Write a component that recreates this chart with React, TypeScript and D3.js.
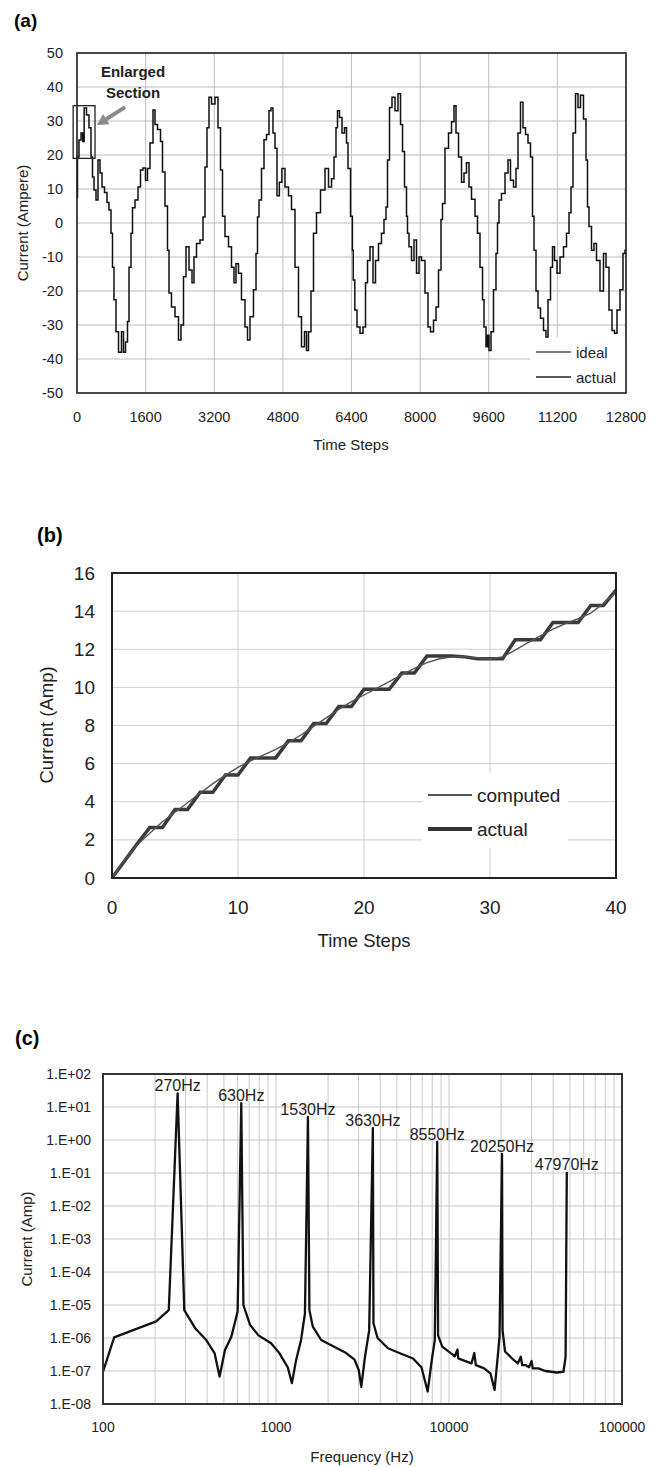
import React from "react";
import * as d3 from "d3";

const FONT = "'Liberation Sans', Arial, Helvetica, sans-serif";

// ---- panel (a): time-domain current ----
const waveTime = [
  0, 23, 70, 117, 147, 187, 256, 303, 350, 373, 420, 466, 513, 560, 606, 676, 723, 769, 816, 839,
  886, 933, 1003, 1072, 1096, 1166, 1189, 1236, 1282, 1306, 1399, 1446, 1515, 1562, 1632, 1655, 1749, 1795, 1842, 1912,
  1982, 2005, 2098, 2122, 2168, 2238, 2332, 2401, 2448, 2518, 2565, 2658, 2705, 2751, 2821, 2914, 2961, 3008, 3054, 3101,
  3171, 3264, 3311, 3381, 3404, 3497, 3567, 3637, 3684, 3730, 3800, 3870, 3963, 3987, 4080, 4150, 4197, 4220, 4267, 4337,
  4383, 4453, 4500, 4546, 4593, 4640, 4686, 4750, 4803, 4896, 4966, 5036, 5129, 5199, 5269, 5339, 5362, 5432, 5479, 5549,
  5619, 5736, 5829, 5899, 5969, 6015, 6062, 6085, 6155, 6202, 6272, 6295, 6342, 6412, 6430, 6450, 6505, 6552, 6645, 6692,
  6762, 6785, 6878, 6925, 6995, 7064, 7134, 7181, 7228, 7251, 7321, 7368, 7461, 7508, 7578, 7601, 7671, 7694, 7717, 7764,
  7834, 7881, 7951, 7997, 8067, 8160, 8207, 8277, 8347, 8394, 8463, 8510, 8533, 8627, 8697, 8767, 8813, 8860, 8930, 9000,
  9046, 9116, 9163, 9233, 9326, 9349, 9443, 9466, 9513, 9559, 9583, 9629, 9676, 9746, 9792, 9816, 9862, 9932, 10026, 10072,
  10142, 10212, 10259, 10305, 10375, 10422, 10492, 10538, 10608, 10632, 10678, 10725, 10772, 10842, 10911, 10958, 11005, 11075, 11098, 11168,
  11215, 11308, 11378, 11448, 11494, 11541, 11588, 11658, 11704, 11774, 11844, 11891, 11914, 11961, 12031, 12077, 12147, 12240, 12310, 12357,
  12450, 12497, 12567, 12613, 12707, 12753, 12800,
];
const waveCurrent = [
  7.6, 19.4, 24.4, 26.5, 24, 33.8, 31.8, 28, 19.4, 13.5, 9.7, 6.8, 18.5, 14.7, 10.6, 9, 6, 3.8, -3, -13,
  -22.6, -32, -38, -32, -38, -35, -29, -13, -3, 4.5, 6.8, 10.6, 15.6, 16.2, 12.6, 16, 23.5, 33.2, 29, 27.5,
  24, 15, 5, -8, -20.6, -24.7, -27.6, -34.4, -30, -15.8, -7, -13.8, -17.6, -10, -6, -5, 1.8, 16.5, 28, 37,
  35, 37, 28, 15.6, 2, -4, -7, -13, -17.6, -12, -14.8, -22.6, -30.6, -34.4, -27.6, -19.6, -9, 1.8, 6.8, 16,
  24.5, 26, 33, 33.8, 26.5, 22, 8, 12, 16, 10.6, 8, 4, -13, -27.6, -36.4, -32, -37.5, -32, -20, -3,
  3, 9.7, 16, 10.6, 13, 19.4, 28, 33, 31, 26.5, 28, 23.5, 16, 2, -8, -16.8, -25.6, -30.6, -32.4, -30.6,
  -17.6, -11, -7, -17.6, -11, -6, -3, 1, 4.7, 18.5, 34, 37, 33, 38, 29, 21, 10.6, 2, -3, -7,
  -11, -5, -14.8, -10, -11, -20.6, -30.6, -32, -28.6, -24.7, -13.8, 1, 5.7, 22, 26.5, 29.8, 34.5, 26.5, 19.4, 12,
  14.7, 17.7, 10.6, 7, 2, -3, -13, -22.6, -30.6, -36.4, -33, -37.5, -32, -19.6, -9, 0, 6.8, 8.7, 14.7, 18.5,
  12.6, 10.6, 16, 26.5, 35.5, 28, 26, 23.5, 19.4, 2, -8, -20, -25, -28, -31.6, -33.5, -22.6, -13, -7, -11,
  -14.8, -10, -7, -3, 3, 10.6, 26.5, 38, 34, 37.6, 30.6, 18.5, 4.7, -1, -8, -6, -11, -20, -9, -13,
  -25.6, -31.6, -32.4, -25.6, -19.6, -9, -8,
];
const aTicksX = [0, 1600, 3200, 4800, 6400, 8000, 9600, 11200, 12800];
const aTicksY = [-50, -40, -30, -20, -10, 0, 10, 20, 30, 40, 50];
const aLegend = ["ideal", "actual"];
const enlargedT = [-90, 420];
const enlargedI = [19, 34.5];

// ---- panel (b): first 40 steps ----
const stepTime = d3.range(0, 41);
const computedCurrent = [
  0, 0.95, 1.75, 2.35, 2.95, 3.45, 3.95, 4.45, 4.95, 5.4, 5.8, 6.15, 6.45, 6.75, 7.1, 7.5, 7.95, 8.4, 8.85, 9.25,
  9.6, 9.95, 10.3, 10.65, 11.0, 11.3, 11.5, 11.6, 11.6, 11.55, 11.5, 11.6, 11.95, 12.35, 12.7, 13.05, 13.35, 13.6, 13.9, 14.4,
  15.0,
];
const actualCurrent = [
  0, 0.9, 1.8, 2.65, 2.65, 3.6, 3.6, 4.5, 4.5, 5.4, 5.4, 6.3, 6.3, 6.3, 7.2, 7.2, 8.1, 8.1, 9.0, 9.0,
  9.9, 9.9, 9.9, 10.75, 10.75, 11.65, 11.65, 11.65, 11.6, 11.5, 11.5, 11.5, 12.5, 12.5, 12.5, 13.4, 13.4, 13.4, 14.3, 14.3,
  15.1,
];
const bTicksX = [0, 10, 20, 30, 40];
const bTicksY = [0, 2, 4, 6, 8, 10, 12, 14, 16];
const bLegend = ["computed", "actual"];

// ---- panel (c): spectrum ----
const specFreq = [
  100, 116, 203, 240, 270, 295, 343, 395, 442, 472, 507, 552, 600, 630, 648, 708, 792, 936, 1045, 1169,
  1236, 1306, 1396, 1470, 1530, 1560, 1632, 1824, 2154, 2546, 2844, 3008, 3111, 3268, 3456, 3630, 3660, 3864, 4437, 5248,
  6197, 6927, 7530, 7960, 8277, 8550, 8650, 9140, 10230, 10800, 11200, 11300, 12770, 13500, 14000, 14300, 15970, 17350, 18340, 19060,
  19590, 20250, 20400, 21080, 23560, 25000, 26000, 26500, 27810, 29000, 30000, 30500, 32870, 36000, 38820, 42000, 45890, 47200, 47970,
];
const specAmp = [
  9.5e-8, 1.05e-6, 3.2e-6, 7e-6, 26, 7e-6, 1.9e-6, 8.7e-7, 3.4e-7, 6.8e-8, 4.3e-7, 1.1e-6, 6.3e-6, 13, 1e-5, 2.5e-6, 1.2e-6, 6.9e-7, 3.5e-7, 1.3e-7,
  4.3e-8, 2.1e-7, 8.7e-7, 5.6e-6, 5.0, 7e-6, 2.2e-6, 8.7e-7, 5.5e-7, 3.5e-7, 2.2e-7, 1.07e-7, 3.3e-8, 2.7e-7, 1.7e-6, 2.3, 2.8e-6, 1e-6, 4.9e-7, 3.4e-7,
  2.4e-7, 1.3e-7, 2.4e-8, 2.2e-7, 8.6e-7, 0.87, 1.2e-6, 5.5e-7, 3.5e-7, 2.8e-7, 4.5e-7, 2.4e-7, 1.9e-7, 1.7e-7, 3.5e-7, 1.5e-7, 1.2e-7, 8.5e-8, 2.7e-8, 2.2e-7,
  1.1e-6, 0.38, 1.7e-6, 3.9e-7, 2.2e-7, 1.7e-7, 2.7e-7, 1.5e-7, 1.5e-7, 1.3e-7, 2e-7, 1.2e-7, 1.2e-7, 1.0e-7, 9.5e-8, 9e-8, 9.5e-8, 2.7e-7, 0.107,
];
const peakFreq = [270, 630, 1530, 3630, 8550, 20250, 47970];
const peakAmp = [26, 13, 5.0, 2.3, 0.87, 0.38, 0.107];
const peakLabels = ["270Hz", "630Hz", "1530Hz", "3630Hz", "8550Hz", "20250Hz", "47970Hz"];
const cTicksX = [100, 1000, 10000, 100000];
const cTicksY = [1e-8, 1e-7, 1e-6, 1e-5, 1e-4, 1e-3, 1e-2, 1e-1, 1, 10, 100];
const cTickYLabels = ["1.E-08", "1.E-07", "1.E-06", "1.E-05", "1.E-04", "1.E-03", "1.E-02", "1.E-01", "1.E+00", "1.E+01", "1.E+02"];

function PanelA() {
  const x = d3.scaleLinear().domain([0, 12800]).range([77, 626]);
  const y = d3.scaleLinear().domain([-50, 50]).range([393, 53]);
  const pts = waveTime.map((t, i) => [t, waveCurrent[i]] as [number, number]);
  // staircase look of the sampled current
  const line = d3.line<[number, number]>().x((d) => x(d[0])).y((d) => y(d[1])).curve(d3.curveStep);
  // arrow pointing at the enlarged box
  const tx = x(1120), ty = y(34.1), hx = x(466), hy = y(28.8);
  const ang = Math.atan2(hy - ty, hx - tx);
  const hl = 11, hw = 6;
  const bx = hx - hl * Math.cos(ang), by = hy - hl * Math.sin(ang);
  const head = [
    [hx, hy],
    [bx + hw * Math.sin(ang), by - hw * Math.cos(ang)],
    [bx - hw * Math.sin(ang), by + hw * Math.cos(ang)],
  ];
  return (
    <g fontFamily={FONT}>
      <text x={14} y={27} fontSize={19} fontWeight="bold">(a)</text>
      {aTicksY.map((v) => (
        <line key={"gy" + v} x1={77} x2={626} y1={y(v)} y2={y(v)} stroke="#bdbdbd" strokeWidth={1} />
      ))}
      {aTicksX.map((t) => (
        <line key={"gx" + t} x1={x(t)} x2={x(t)} y1={53} y2={393} stroke="#bdbdbd" strokeWidth={1} />
      ))}
      <rect x={530} y={337} width={96} height={56} fill="#fff" />
      <path d={line(pts) || ""} fill="none" stroke="#111" strokeWidth={1.5} />
      <rect x={77} y={53} width={549} height={340} fill="none" stroke="#222" strokeWidth={1.6} />
      {aTicksY.map((v) => (
        <text key={"ly" + v} x={63} y={y(v)} fontSize={14.5} textAnchor="end" dominantBaseline="central" fill="#222">{v}</text>
      ))}
      {aTicksX.map((t) => (
        <text key={"lx" + t} x={x(t)} y={422} fontSize={14.5} textAnchor="middle" fill="#222">{t}</text>
      ))}
      <text x={351} y={450} fontSize={15} textAnchor="middle" fill="#222">Time Steps</text>
      <text transform="translate(22,223) rotate(-90)" fontSize={15} textAnchor="middle" dominantBaseline="central" fill="#222">Current (Ampere)</text>
      <rect
        x={x(enlargedT[0])}
        y={y(enlargedI[1])}
        width={x(enlargedT[1]) - x(enlargedT[0])}
        height={y(enlargedI[0]) - y(enlargedI[1])}
        fill="none"
        stroke="#222"
        strokeWidth={1.3}
      />
      <line x1={tx} y1={ty} x2={bx} y2={by} stroke="#8a8a8a" strokeWidth={4} />
      <polygon points={head.map((p) => p.join(",")).join(" ")} fill="#8a8a8a" />
      <text x={133} y={77} fontSize={15} fontWeight="bold" textAnchor="middle" fill="#222">Enlarged</text>
      <text x={133} y={98} fontSize={15} fontWeight="bold" textAnchor="middle" fill="#222">Section</text>
      {aLegend.map((s, i) => (
        <g key={s}>
          <line x1={536} x2={571} y1={352 + i * 25} y2={352 + i * 25} stroke={i === 0 ? "#555" : "#222"} strokeWidth={1.6} />
          <text x={576} y={352 + i * 25} fontSize={15} dominantBaseline="central" fill="#222">{s}</text>
        </g>
      ))}
    </g>
  );
}

function PanelB() {
  const x = d3.scaleLinear().domain([0, 40]).range([112, 616]);
  const y = d3.scaleLinear().domain([0, 16]).range([878, 573]);
  const line = d3.line<number>().x((_, i) => x(stepTime[i])).y((d) => y(d));
  return (
    <g fontFamily={FONT}>
      <text x={37} y={542} fontSize={20} fontWeight="bold">(b)</text>
      {bTicksY.map((v) => (
        <line key={"gy" + v} x1={112} x2={616} y1={y(v)} y2={y(v)} stroke="#cfcfcf" strokeWidth={1} />
      ))}
      {bTicksX.map((t) => (
        <line key={"gx" + t} x1={x(t)} x2={x(t)} y1={573} y2={878} stroke="#cfcfcf" strokeWidth={1} />
      ))}
      <rect x={422} y={773} width={146} height={75} fill="#fff" />
      <path d={line(actualCurrent) || ""} fill="none" stroke="#3a3a3a" strokeWidth={3.5} strokeLinejoin="miter" />
      <path d={line(computedCurrent) || ""} fill="none" stroke="#555" strokeWidth={1.4} />
      <rect x={112} y={573} width={504} height={305} fill="none" stroke="#222" strokeWidth={2} />
      {bTicksY.map((v) => (
        <text key={"ly" + v} x={95} y={y(v)} fontSize={19} textAnchor="end" dominantBaseline="central" fill="#222">{v}</text>
      ))}
      {bTicksX.map((t) => (
        <text key={"lx" + t} x={x(t)} y={914} fontSize={19} textAnchor="middle" fill="#222">{t}</text>
      ))}
      <text x={364} y={947} fontSize={18.5} textAnchor="middle" fill="#222">Time Steps</text>
      <text transform="translate(46,725) rotate(-90)" fontSize={18.5} textAnchor="middle" dominantBaseline="central" fill="#222">Current (Amp)</text>
      {bLegend.map((s, i) => (
        <g key={s}>
          <line x1={428} x2={472} y1={795 + i * 34} y2={795 + i * 34} stroke={i === 0 ? "#555" : "#333"} strokeWidth={i === 0 ? 1.8 : 4} />
          <text x={477} y={795 + i * 34} fontSize={19} dominantBaseline="central" fill="#222">{s}</text>
        </g>
      ))}
    </g>
  );
}

function PanelC() {
  const x = d3.scaleLog().domain([100, 100000]).range([103, 622]);
  const y = d3.scaleLog().domain([1e-8, 100]).range([1404, 1074]);
  const line = d3.line<number>().x((_, i) => x(specFreq[i])).y((d) => y(d));
  const minor: number[] = [];
  [100, 1000, 10000].forEach((dec) => {
    for (let k = 1; k <= 9; k++) minor.push(dec * k);
  });
  minor.push(100000);
  return (
    <g fontFamily={FONT}>
      <text x={15} y={1045} fontSize={20} fontWeight="bold">(c)</text>
      {cTicksY.map((v) => (
        <line key={"gy" + v} x1={103} x2={622} y1={y(v)} y2={y(v)} stroke="#c8c8c8" strokeWidth={1} />
      ))}
      {minor.map((f) => (
        <line key={"gx" + f} x1={x(f)} x2={x(f)} y1={1074} y2={1404} stroke="#c8c8c8" strokeWidth={1} />
      ))}
      <path d={line(specAmp) || ""} fill="none" stroke="#111" strokeWidth={2.3} strokeLinejoin="round" />
      <rect x={103} y={1074} width={519} height={330} fill="none" stroke="#333" strokeWidth={2} />
      {cTicksY.map((v, i) => (
        <text key={"ly" + v} x={91} y={y(v)} fontSize={14} textAnchor="end" dominantBaseline="central" fill="#222">{cTickYLabels[i]}</text>
      ))}
      {cTicksX.map((f) => (
        <text key={"lx" + f} x={x(f)} y={1432} fontSize={14} textAnchor="middle" fill="#222">{f}</text>
      ))}
      <text x={362} y={1462} fontSize={15} textAnchor="middle" fill="#222">Frequency (Hz)</text>
      <text transform="translate(26,1239) rotate(-90)" fontSize={15} textAnchor="middle" dominantBaseline="central" fill="#222">Current (Amp)</text>
      {peakFreq.map((f, i) => (
        <text key={"p" + f} x={x(f)} y={y(peakAmp[i]) - 2} fontSize={16} textAnchor="middle" fill="#222">{peakLabels[i]}</text>
      ))}
    </g>
  );
}

export default function App() {
  return (
    <svg width={656} height={1467} style={{ position: "absolute", left: 0, top: 0, background: "#fff" }}>
      <rect width={656} height={1467} fill="#fff" />
      <PanelA />
      <PanelB />
      <PanelC />
    </svg>
  );
}
